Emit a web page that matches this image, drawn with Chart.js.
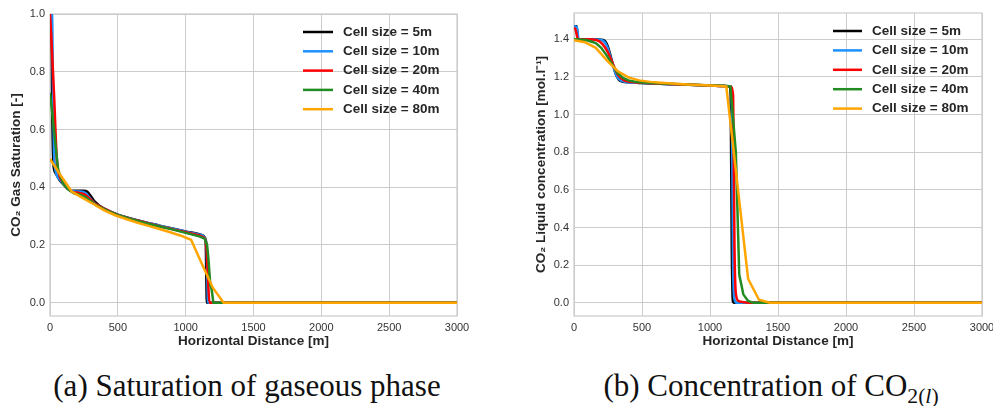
<!DOCTYPE html>
<html>
<head>
<meta charset="utf-8">
<script src="https://cdn.jsdelivr.net/npm/chart.js@4.4.1/dist/chart.umd.min.js"></script>
<style>
  html, body { margin: 0; padding: 0; background: #fff; overflow: hidden; width: 993px; height: 406px; }
  canvas { position: absolute; top: 0; }
  #satChart { left: 0; }
  #conChart { left: 520px; }
  .cap { position: absolute; top: 370px; font-family: "Liberation Serif", serif; font-size: 31px; line-height: 31px; color: #111; text-align: center; white-space: nowrap; }
  .cap sub { font-size: 0.7em; vertical-align: -0.3em; line-height: 0; }
</style>
</head>
<body>
<canvas id="satChart" width="490" height="352"></canvas>
<canvas id="conChart" width="490" height="352"></canvas>
<div class="cap" style="left:0;width:494px">(a) Saturation of gaseous phase</div>
<div class="cap" style="left:521px;width:500px">(b) Concentration of CO<sub>2(<i>l</i>)</sub></div>

<script>
// series labels + colours
var cellLabels = ['Cell size = 5m', 'Cell size = 10m', 'Cell size = 20m', 'Cell size = 40m', 'Cell size = 80m'];
var cellColors = ['#000000', '#1e90ff', '#ff0000', '#228b22', '#ffa500'];

// tick values
var distTicks = [0, 500, 1000, 1500, 2000, 2500, 3000];
var satTicks = [0.0, 0.2, 0.4, 0.6, 0.8, 1.0];
var conTicks = [0.0, 0.2, 0.4, 0.6, 0.8, 1.0, 1.2, 1.4];

// (a) gas saturation
var satX_5 = [0, 10, 18, 25, 40, 70, 100, 130, 160, 200, 250, 275, 300, 330, 360, 400, 500, 600, 700, 800, 900, 1000, 1100, 1125, 1140, 1148, 1152, 1156, 3000];
var satY_5 = [1.0, 1.0, 0.62, 0.48, 0.45, 0.425, 0.41, 0.395, 0.388, 0.388, 0.388, 0.384, 0.37, 0.35, 0.338, 0.326, 0.305, 0.291, 0.279, 0.268, 0.257, 0.247, 0.237, 0.233, 0.226, 0.205, 0.1, 0.0, 0.0];
var satX_10 = [0, 15, 22, 30, 45, 75, 100, 130, 160, 200, 240, 265, 290, 320, 350, 400, 500, 600, 700, 800, 900, 1000, 1100, 1130, 1145, 1155, 1160, 1165, 3000];
var satY_10 = [1.0, 1.0, 0.75, 0.52, 0.45, 0.425, 0.41, 0.395, 0.387, 0.385, 0.384, 0.378, 0.365, 0.348, 0.337, 0.325, 0.305, 0.291, 0.279, 0.268, 0.257, 0.246, 0.236, 0.231, 0.222, 0.19, 0.08, 0.0, 0.0];
var satX_20 = [0, 10, 30, 50, 70, 90, 110, 130, 150, 170, 210, 250, 270, 290, 310, 330, 370, 410, 500, 600, 700, 800, 900, 1000, 1100, 1130, 1150, 1165, 1175, 3000];
var satY_20 = [1.0, 0.92, 0.72, 0.5, 0.44, 0.42, 0.405, 0.395, 0.388, 0.383, 0.381, 0.376, 0.37, 0.362, 0.352, 0.344, 0.333, 0.323, 0.304, 0.29, 0.278, 0.266, 0.255, 0.244, 0.233, 0.227, 0.21, 0.08, 0.0, 0.0];
var satX_40 = [0, 20, 60, 100, 140, 180, 220, 260, 300, 340, 400, 500, 600, 700, 800, 900, 1000, 1100, 1140, 1158, 1168, 1182, 1192, 1204, 3000];
var satY_40 = [0.727, 0.64, 0.46, 0.41, 0.39, 0.378, 0.374, 0.366, 0.352, 0.338, 0.323, 0.303, 0.289, 0.276, 0.265, 0.254, 0.242, 0.23, 0.222, 0.2, 0.15, 0.06, 0.045, 0.0, 0.0];
var satX_80 = [0, 80, 160, 240, 320, 400, 480, 560, 640, 720, 800, 880, 960, 1040, 1120, 1200, 1280, 3000];
var satY_80 = [0.498, 0.44, 0.385, 0.363, 0.342, 0.32, 0.303, 0.29, 0.278, 0.267, 0.256, 0.245, 0.233, 0.218, 0.134, 0.052, 0.0, 0.0];

// (b) liquid CO2 concentration
var conX_5 = [0, 20, 30, 100, 200, 230, 250, 270, 290, 310, 330, 360, 400, 500, 600, 700, 800, 900, 1000, 1100, 1145, 1152, 1160, 1168, 1175, 3000];
var conY_5 = [1.47, 1.47, 1.40, 1.40, 1.398, 1.39, 1.36, 1.31, 1.255, 1.21, 1.185, 1.175, 1.172, 1.168, 1.165, 1.162, 1.16, 1.157, 1.155, 1.152, 1.15, 1.1, 0.3, 0.01, 0.0, 0.0];
var conX_10 = [0, 20, 35, 100, 200, 225, 245, 265, 285, 305, 325, 350, 400, 500, 600, 700, 800, 900, 1000, 1100, 1150, 1160, 1170, 1180, 1195, 3000];
var conY_10 = [1.47, 1.465, 1.40, 1.40, 1.396, 1.385, 1.36, 1.315, 1.265, 1.22, 1.192, 1.18, 1.172, 1.168, 1.165, 1.162, 1.16, 1.157, 1.155, 1.152, 1.15, 1.1, 0.2, 0.02, 0.0, 0.0];
var conX_20 = [0, 10, 30, 90, 170, 210, 250, 290, 330, 370, 410, 500, 600, 700, 800, 900, 1000, 1100, 1150, 1170, 1180, 1190, 1210, 1250, 1280, 3000];
var conY_20 = [1.46, 1.455, 1.40, 1.40, 1.395, 1.375, 1.33, 1.262, 1.205, 1.182, 1.175, 1.169, 1.166, 1.163, 1.16, 1.157, 1.155, 1.152, 1.15, 1.1, 0.3, 0.05, 0.01, 0.003, 0.0, 0.0];
var conX_40 = [0, 80, 120, 160, 200, 240, 280, 320, 360, 400, 440, 500, 600, 700, 800, 900, 1000, 1100, 1150, 1190, 1215, 1245, 1280, 1320, 3000];
var conY_40 = [1.40, 1.398, 1.39, 1.38, 1.355, 1.315, 1.268, 1.222, 1.195, 1.182, 1.176, 1.171, 1.167, 1.164, 1.161, 1.158, 1.156, 1.153, 1.15, 0.8, 0.15, 0.045, 0.01, 0.0, 0.0];
var conX_80 = [0, 80, 160, 240, 320, 400, 480, 560, 640, 720, 800, 880, 960, 1040, 1120, 1200, 1280, 1360, 1440, 3000];
var conY_80 = [1.395, 1.385, 1.355, 1.29, 1.232, 1.198, 1.182, 1.174, 1.169, 1.165, 1.162, 1.159, 1.156, 1.153, 1.15, 0.64, 0.128, 0.016, 0.0, 0.0];

Chart.defaults.font.family = '"Liberation Sans", Arial, sans-serif';
Chart.defaults.color = '#333333';

function pts(xs, ys) {
  return xs.map(function (x, i) { return { x: x, y: ys[i] }; });
}

// light grey box around the plot area (whitegrid look)
var frame = {
  id: 'frame',
  beforeDatasetsDraw: function (chart) {
    var a = chart.chartArea, ctx = chart.ctx;
    ctx.save();
    ctx.strokeStyle = '#cccccc';
    ctx.lineWidth = 1.25;
    ctx.strokeRect(a.left, a.top, a.right - a.left, a.bottom - a.top);
    ctx.restore();
  }
};

// legend drawn inside the plot, upper right, no box
var insideLegend = {
  id: 'insideLegend',
  afterDatasetsDraw: function (chart, args, opts) {
    var a = chart.chartArea, ctx = chart.ctx;
    var x0 = a.right - opts.right;
    ctx.save();
    ctx.font = 'bold 13.5px "Liberation Sans", Arial, sans-serif';
    ctx.textBaseline = 'middle';
    ctx.textAlign = 'left';
    chart.data.datasets.forEach(function (ds, i) {
      var y = a.top + opts.top + i * opts.gap;
      ctx.strokeStyle = ds.borderColor;
      ctx.lineWidth = 2.5;
      ctx.beginPath();
      ctx.moveTo(x0, y);
      ctx.lineTo(x0 + opts.lineLen, y);
      ctx.stroke();
      ctx.fillStyle = '#262626';
      ctx.fillText(ds.label, x0 + opts.textOff, y);
    });
    ctx.restore();
  }
};

function fixTicks(vals) {
  return function (scale) {
    scale.ticks = vals.map(function (v) { return { value: v }; });
  };
}

function makeChart(id, cfg) {
  var datasets = cfg.series.map(function (s, i) {
    return {
      label: cellLabels[i],
      data: pts(s[0], s[1]),
      borderColor: cellColors[i],
      backgroundColor: cellColors[i],
      borderWidth: 2.5,
      pointRadius: 0,
      fill: false,
      order: 5 - i,
      cubicInterpolationMode: i < 3 ? 'monotone' : 'default',
      tension: 0
    };
  });

  return new Chart(document.getElementById(id), {
    type: 'line',
    data: { datasets: datasets },
    plugins: [frame, insideLegend],
    options: {
      responsive: false,
      animation: false,
      events: [],
      layout: { padding: cfg.padding },
      plugins: {
        legend: { display: false },
        tooltip: { enabled: false },
        insideLegend: cfg.legend
      },
      scales: {
        x: {
          type: 'linear',
          min: 0,
          max: 3000,
          afterBuildTicks: fixTicks(distTicks),
          afterFit: function (s) {
            s.height = 36;
            s.paddingLeft = 0; s.paddingRight = 0; s.paddingTop = 0; s.paddingBottom = 0;
          },
          grid: { color: '#cccccc', lineWidth: 1, drawTicks: false },
          border: { display: false },
          ticks: { padding: 5, font: { size: 11 }, color: '#333333', maxRotation: 0, autoSkip: false,
                   callback: function (v) { return String(v); } },
          title: { display: true, text: 'Horizontal Distance [m]', color: '#262626',
                   font: { size: 13.5, weight: 'bold' }, padding: { top: 0, bottom: 3 } }
        },
        y: {
          type: 'linear',
          min: cfg.yMin,
          max: cfg.yMax,
          afterBuildTicks: fixTicks(cfg.yTicks),
          afterFit: function (s) {
            s.width = cfg.yWidth;
            s.paddingLeft = 0; s.paddingRight = 0; s.paddingTop = 0; s.paddingBottom = 0;
          },
          grid: { color: '#cccccc', lineWidth: 1, drawTicks: false },
          border: { display: false },
          ticks: { padding: 5, font: { size: 11 }, color: '#333333', autoSkip: false,
                   callback: function (v) { return v.toFixed(1); } },
          title: { display: true, text: cfg.yTitle, color: '#262626',
                   font: { size: 13.5, weight: 'bold' }, padding: { top: cfg.yTitlePad, bottom: 0 } }
        }
      }
    }
  });
}

makeChart('satChart', {
  series: [[satX_5, satY_5], [satX_10, satY_10], [satX_20, satY_20], [satX_40, satY_40], [satX_80, satY_80]],
  yMin: -0.046, yMax: 1.0, yTicks: satTicks, yWidth: 50,
  yTitle: 'CO\u2082 Gas Saturation [-]', yTitlePad: 8.5,
  padding: { left: 0, top: 14, right: 33, bottom: 0 },
  legend: { right: 154, top: 18, gap: 19.3, lineLen: 30, textOff: 40 }
});

makeChart('conChart', {
  series: [[conX_5, conY_5], [conX_10, conY_10], [conX_20, conY_20], [conX_40, conY_40], [conX_80, conY_80]],
  yMin: -0.07, yMax: 1.54, yTicks: conTicks, yWidth: 54,
  yTitle: 'CO\u2082 Liquid concentration [mol.l\u207B\u00B9]', yTitlePad: 13.5,
  padding: { left: 0, top: 13, right: 28, bottom: 0 },
  legend: { right: 149, top: 18, gap: 19.4, lineLen: 29, textOff: 39 }
});
</script>
</body>
</html>
